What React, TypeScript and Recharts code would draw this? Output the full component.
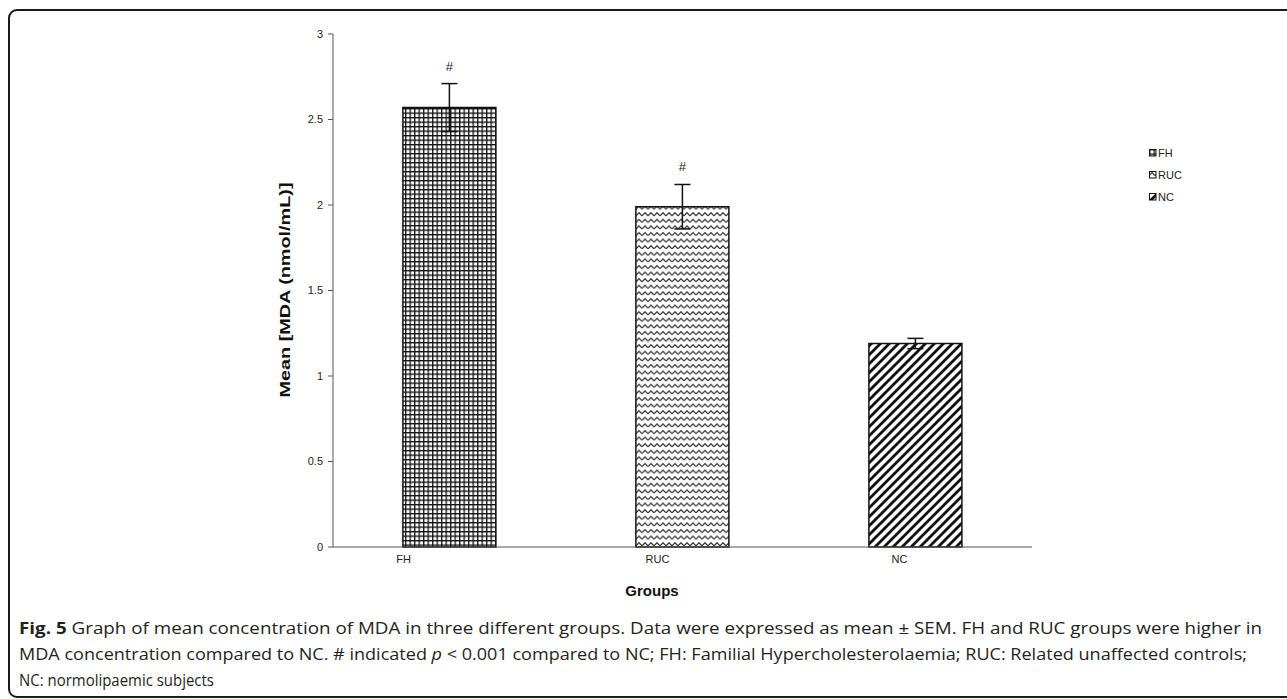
import { BarChart, Bar, XAxis, YAxis, ErrorBar, Cell, LabelList, Legend } from "recharts";

const GROUPS = ["FH", "RUC", "NC"];
const MEANS = [2.57, 1.99, 1.19];
const SEMS = [0.14, 0.13, 0.03];
const MARKS = ["#", "#", ""];
const Y_TICKS = [0, 0.5, 1, 1.5, 2, 2.5, 3];
const FILLS = ["url(#pat-fh)", "url(#pat-ruc)", "url(#pat-nc)"];

// category labels in the source sit a little left of the bar centres
const LABEL_SHIFT = [-46, -25, -16];

const data = GROUPS.map((g, i) => ({ group: g, mean: MEANS[i], sem: SEMS[i], mark: MARKS[i] }));

const AXIS_FONT = "'Liberation Sans', Arial, sans-serif";
const CAPTION_FONT = "'Open Sans', 'Noto Sans', sans-serif";

function Patterns() {
	return (
		<svg width={0} height={0} style={{ position: "absolute" }}>
			<defs>
				<pattern id="pat-fh" width={4.5} height={4.5} patternUnits="userSpaceOnUse">
					<rect width={4.5} height={4.5} fill="#fff" />
					<path d="M0 0.7 H4.5 M0.7 0 V4.5" stroke="#111" strokeWidth={1.3} />
				</pattern>
				<pattern id="pat-ruc" width={6} height={6.6} patternUnits="userSpaceOnUse">
					<rect width={6} height={6.6} fill="#fff" />
					<path d="M0 4.6 L3 1.6 L6 4.6" stroke="#333" strokeWidth={1.3} fill="none" />
				</pattern>
				<pattern id="pat-nc" width={9} height={9} patternUnits="userSpaceOnUse">
					<rect width={9} height={9} fill="#fff" />
					<path d="M-1 1 L1 -1 M0 9 L9 0 M8 10 L10 8" stroke="#111" strokeWidth={2.8} />
				</pattern>
			</defs>
		</svg>
	);
}

function GroupTick(props: any) {
	const { x, y, payload, index } = props;
	return (
		<text
			x={x + (LABEL_SHIFT[index] ?? 0)}
			y={y + 4}
			textAnchor="middle"
			dominantBaseline="central"
			fontSize={11}
			fontFamily={AXIS_FONT}
			fill="#222"
		>
			{payload.value}
		</text>
	);
}

function MarkLabel(props: any) {
	const { x, y, width, height, index } = props;
	const mark = MARKS[index];
	if (!mark) return null;
	const pxPerUnit = height / MEANS[index];
	const errTop = y - SEMS[index] * pxPerUnit;
	return (
		<text x={x + width / 2} y={errTop - 13} textAnchor="middle" fontSize={13} fontFamily={AXIS_FONT} fill="#222">
			{mark}
		</text>
	);
}

function LegendBox() {
	return (
		<div style={{ fontFamily: AXIS_FONT, fontSize: 11, color: "#222" }}>
			{GROUPS.map((g, i) => (
				<div key={g} style={{ display: "flex", alignItems: "center", height: 22 }}>
					<svg width={8} height={8} style={{ marginRight: 1 }}>
						<rect x={0.5} y={0.5} width={6.5} height={6.5} fill={FILLS[i]} stroke="#111" strokeWidth={1} />
					</svg>
					<span>{g}</span>
				</div>
			))}
		</div>
	);
}

export default function App() {
	return (
		<div style={{ position: "fixed", left: 0, top: 0, width: 1287, height: 699, overflow: "hidden", background: "#fff" }}>
			<Patterns />
			<div
				style={{
					position: "absolute",
					left: 8,
					top: 9,
					width: 1400,
					height: 689,
					border: "2px solid #1a1a1a",
					borderRadius: 9,
					boxSizing: "border-box",
				}}
			/>
			<div style={{ position: "absolute", left: 0, top: 0 }}>
				<BarChart
					width={1287}
					height={610}
					data={data}
					margin={{ top: 34, right: 195, left: 273, bottom: 33 }}
					barCategoryGap="30%"
				>
					<XAxis
						dataKey="group"
						height={30}
						axisLine={{ stroke: "#555", strokeWidth: 1 }}
						tickLine={false}
						tick={<GroupTick />}
					/>
					<YAxis
						width={60}
						domain={[0, 3]}
						ticks={Y_TICKS}
						interval={0}
						axisLine={{ stroke: "#555", strokeWidth: 1 }}
						tickLine={{ stroke: "#555" }}
						tickSize={5}
						tickMargin={5}
						tick={{ fontSize: 11, fontFamily: AXIS_FONT, fill: "#222" }}
					/>
					<Legend
						verticalAlign="top"
						align="right"
						layout="vertical"
						content={() => <LegendBox />}
						wrapperStyle={{ top: 142, left: 1149, width: 60, right: "auto" }}
					/>
					<Bar dataKey="mean" isAnimationActive={false} stroke="#111" strokeWidth={1.5}>
						{data.map((d, i) => (
							<Cell key={d.group} fill={FILLS[i]} />
						))}
						<ErrorBar dataKey="sem" width={8} stroke="#111" strokeWidth={1.5} direction="y" />
						<LabelList dataKey="mark" content={<MarkLabel />} />
					</Bar>
				</BarChart>
			</div>
			<svg width={1287} height={699} style={{ position: "absolute", left: 0, top: 0, pointerEvents: "none" }}>
				<text
					transform="translate(290,290) rotate(-90)"
					textAnchor="middle"
					fontSize={15}
					fontWeight="bold"
					fontFamily={AXIS_FONT}
					fill="#111"
					textLength={215}
					lengthAdjust="spacingAndGlyphs"
				>
					Mean [MDA (nmol/mL)]
				</text>
				<text x={652} y={596} textAnchor="middle" fontSize={15} fontWeight="bold" fontFamily={AXIS_FONT} fill="#111">
					Groups
				</text>
				<g fontFamily={CAPTION_FONT} fontSize={16.5} fill="#231f20">
					<text x={19} y={634} textLength={1243} lengthAdjust="spacingAndGlyphs">
						<tspan fontWeight="bold">Fig. 5</tspan> Graph of mean concentration of MDA in three different groups. Data were
						expressed as mean ± SEM. FH and RUC groups were higher in
					</text>
					<text x={19} y={660} textLength={1228} lengthAdjust="spacingAndGlyphs">
						MDA concentration compared to NC. # indicated <tspan fontStyle="italic">p</tspan> &lt; 0.001 compared to NC; FH:
						Familial Hypercholesterolaemia; RUC: Related unaffected controls;
					</text>
					<text x={19} y={686} textLength={195} lengthAdjust="spacingAndGlyphs">
						NC: normolipaemic subjects
					</text>
				</g>
			</svg>
		</div>
	);
}
